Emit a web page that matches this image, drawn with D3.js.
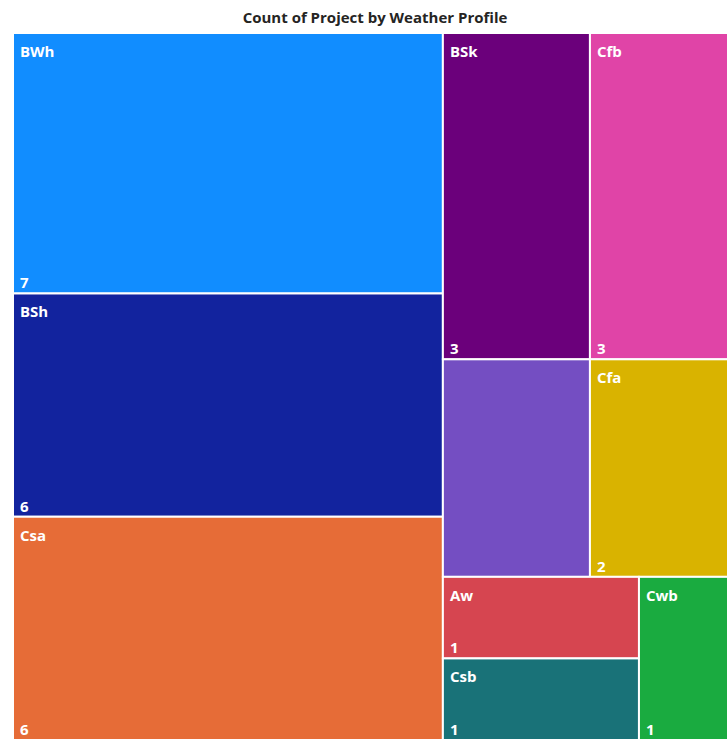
<!DOCTYPE html>
<html>
<head>
<meta charset="utf-8">
<script src="https://cdn.jsdelivr.net/npm/d3@7"></script>
<style>
  html, body { margin: 0; padding: 0; background: #fff; }
  svg { display: block; }
</style>
</head>
<body>
<svg id="chart" width="727" height="740"></svg>
<script>
// Weather profile categories and project counts
const categories = ["BWh", "BSh", "Csa", "BSk", "Cfb", "", "Cfa", "Aw", "Csb", "Cwb"];
const counts     = [7, 6, 6, 3, 3, 2, 2, 1, 1, 1];
const palette    = ["#118DFF", "#12239E", "#E66C37", "#6B007B", "#E044A7",
                    "#744EC2", "#D9B300", "#D64550", "#197278", "#1AAB40"];
// Nesting of categories (by index) into alternating columns / rows
const grouping   = [[0, 1, 2], [[3, 4], [5, 6], [[7, 8], 9]]];

const title = "Count of Project by Weather Profile";

const svg = d3.select("#chart");
const area = { x: 13, y: 33, w: 724, h: 707 };

svg.append("text")
  .attr("x", area.x + area.w / 2)
  .attr("y", 23)
  .attr("text-anchor", "middle")
  .attr("font-family", "'Open Sans', sans-serif")
  .attr("font-weight", 700)
  .attr("font-size", 15)
  .attr("fill", "#252423")
  .text(title);

function build(g) {
  return Array.isArray(g) ? { children: g.map(build) } : { i: g };
}

const root = d3.hierarchy(build(grouping))
  .sum(d => d.i !== undefined ? counts[d.i] : 0);

d3.treemap()
  .tile(d3.treemapSliceDice)
  .size([area.w, area.h])(root);

const g = svg.append("g").attr("transform", `translate(${area.x},${area.y})`);

const cells = g.selectAll("g.cell")
  .data(root.leaves())
  .join("g")
  .attr("class", "cell")
  .attr("transform", d => `translate(${d.x0},${d.y0})`);

cells.append("rect")
  .attr("width", d => d.x1 - d.x0)
  .attr("height", d => d.y1 - d.y0)
  .attr("fill", d => palette[d.data.i])
  .attr("stroke", "#ffffff")
  .attr("stroke-width", 2);

const labelFont = "'Open Sans', sans-serif";

cells.filter(d => categories[d.data.i] !== "")
  .append("text")
  .attr("x", 7)
  .attr("y", 24)
  .attr("font-family", labelFont)
  .attr("font-weight", 700)
  .attr("font-size", 15)
  .attr("fill", "#ffffff")
  .text(d => categories[d.data.i]);

cells.filter(d => categories[d.data.i] !== "")
  .append("text")
  .attr("x", 7)
  .attr("y", d => d.y1 - d.y0 - 5)
  .attr("font-family", labelFont)
  .attr("font-weight", 700)
  .attr("font-size", 15)
  .attr("fill", "#ffffff")
  .text(d => counts[d.data.i]);
</script>
</body>
</html>
